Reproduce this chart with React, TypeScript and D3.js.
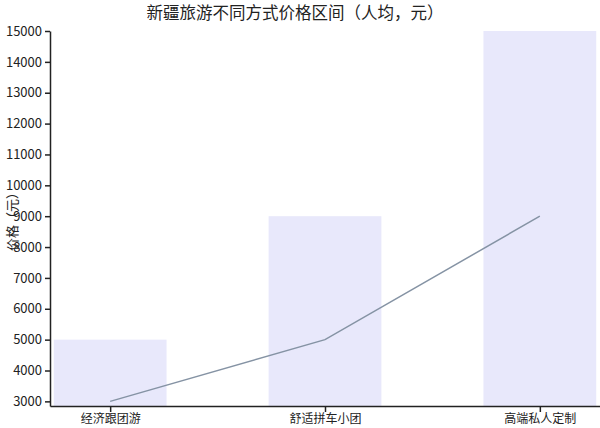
import { useEffect, useRef } from 'react';
import * as d3 from 'd3';

const categories = ['经济跟团游', '舒适拼车小团', '高端私人定制'];
const maxPrices = [5000, 9000, 15000];
const minPrices = [3000, 5000, 9000];
const yTicks = [3000, 4000, 5000, 6000, 7000, 8000, 9000, 10000, 11000, 12000, 13000, 14000, 15000];

const FONT = "'Noto Sans CJK SC', 'Noto Sans', sans-serif";

export default function App() {
  const svgRef = useRef<SVGSVGElement>(null);
  const width = 600;
  const height = 428;

  useEffect(() => {
    if (!svgRef.current) return;
    const svg = d3.select(svgRef.current);
    svg.selectAll('*').remove();

    const margin = { top: 31, right: 0, bottom: 22, left: 50 };
    const plotBottom = height - margin.bottom;

    const x = d3
      .scalePoint<string>()
      .domain(categories)
      .range([margin.left, width - margin.right])
      .padding(0.28);
    const barWidth = x.step() * 0.525;

    const y = d3.scaleLinear().domain([2850, 15000]).range([plotBottom, margin.top]);

    svg
      .append('g')
      .selectAll('rect')
      .data(categories)
      .join('rect')
      .attr('x', (d) => (x(d) ?? 0) - barWidth / 2)
      .attr('y', (_, i) => y(maxPrices[i]))
      .attr('width', barWidth)
      .attr('height', (_, i) => plotBottom - y(maxPrices[i]))
      .attr('fill', '#e8e8fb');

    const line = d3
      .line<number>()
      .x((_, i) => x(categories[i]) ?? 0)
      .y((d) => y(d));

    svg
      .append('path')
      .datum(minPrices)
      .attr('fill', 'none')
      .attr('stroke', '#8593a4')
      .attr('stroke-width', 1.5)
      .attr('d', line);

    svg
      .append('g')
      .attr('transform', `translate(0,${plotBottom})`)
      .call(d3.axisBottom(x).tickSize(6).tickSizeOuter(0))
      .call((g) => {
        g.select('.domain').attr('stroke', '#222').attr('stroke-width', 1.5);
        g.selectAll('.tick line').attr('stroke', '#222').attr('stroke-width', 1.5);
        g.selectAll('.tick text')
          .attr('fill', '#222')
          .attr('font-size', 12)
          .attr('font-family', FONT)
          .attr('y', 8);
      });

    svg
      .append('g')
      .attr('transform', `translate(${margin.left},0)`)
      .call(d3.axisLeft(y).tickValues(yTicks).tickSize(5).tickSizeOuter(0).tickFormat((d) => `${d}`))
      .call((g) => {
        g.select('.domain').attr('stroke', '#222').attr('stroke-width', 1.5);
        g.selectAll('.tick line').attr('stroke', '#222').attr('stroke-width', 1.5);
        g.selectAll('.tick text')
          .attr('fill', '#222')
          .attr('font-size', 13)
          .attr('font-family', FONT);
      });

    svg
      .append('text')
      .attr('transform', `translate(17,${(margin.top + plotBottom) / 2}) rotate(-90)`)
      .attr('text-anchor', 'middle')
      .attr('fill', '#222')
      .attr('font-size', 13)
      .attr('font-family', FONT)
      .text('价格（元）');

    svg
      .append('text')
      .attr('x', 295)
      .attr('y', 19)
      .attr('text-anchor', 'middle')
      .attr('fill', '#222')
      .attr('font-size', 16.5)
      .attr('font-family', FONT)
      .text('新疆旅游不同方式价格区间（人均，元）');
  }, []);

  return (
    <svg
      ref={svgRef}
      width={width}
      height={height}
      style={{ position: 'absolute', left: 0, top: 0, background: '#fff' }}
    />
  );
}
